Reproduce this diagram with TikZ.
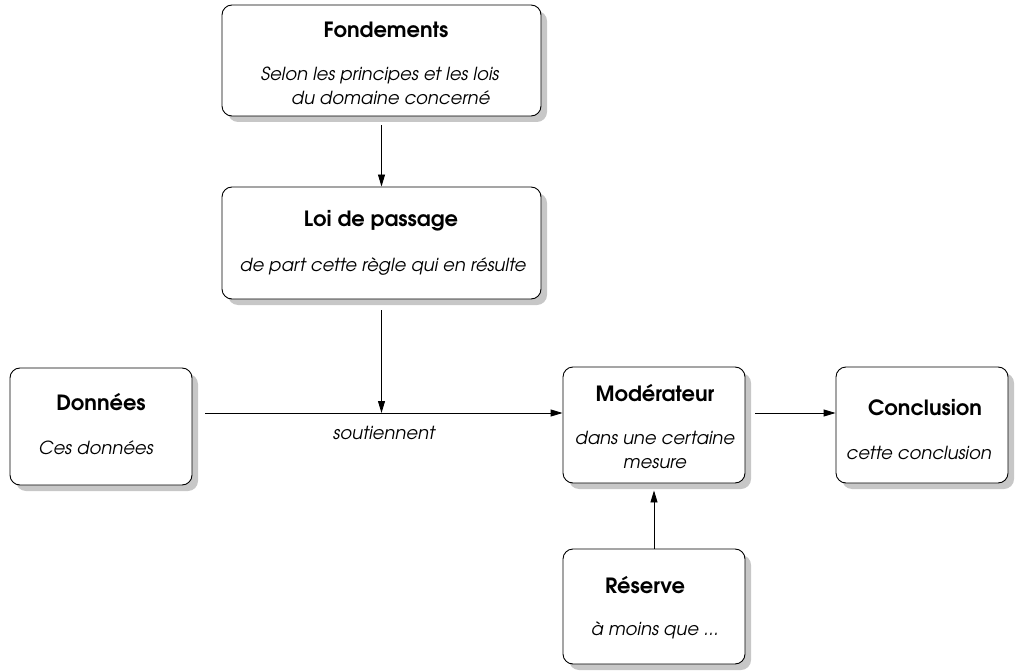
\documentclass[tikz,border=0pt]{standalone}
\usepackage{fontspec}
\setmainfont{TeX Gyre Adventor}
\usetikzlibrary{arrows.meta,shadows}
\begin{document}
\begin{tikzpicture}[x=1pt,y=-1pt,
  card/.style={draw=black, line width=0.9pt, fill=white, rounded corners=10pt,
    inner sep=0pt, drop shadow={shadow xshift=6pt, shadow yshift=-6pt, fill=black!22, opacity=1}},
  ttl/.style={font=\fontsize{21}{24}\selectfont\bfseries},
  sub/.style={font=\fontsize{18}{24}\selectfont\itshape, align=center},
  arr/.style={draw=black, line width=0.9pt, -{Triangle[length=12pt,width=7pt]}}]
\useasboundingbox (0,0) rectangle (1017,671);

% boxes
\node[card, minimum width=319pt, minimum height=111pt] (fond) at (381.5,60.5) {};
\node[card, minimum width=319pt, minimum height=112pt] (loi)  at (381.5,243) {};
\node[card, minimum width=182pt, minimum height=117pt] (don)  at (101,426.5) {};
\node[card, minimum width=182pt, minimum height=116pt] (mod)  at (654,425) {};
\node[card, minimum width=172pt, minimum height=116pt] (conc) at (922,425) {};
\node[card, minimum width=182pt, minimum height=115pt] (res)  at (654,606.5) {};

% texts
\node[ttl] (fondT) at (386,30) {Fondements};
\node[sub] (fondS) at (380,86) {Selon les principes et les lois\\ \hspace*{1.2em}du domaine concerné};
\node[ttl] (loiT) at (381,221) {Loi de passage};
\node[sub] (loiS) at (383,267) {de part cette règle qui en résulte};
\node[ttl] (donT) at (101,402) {Données};
\node[sub] (donS) at (96,448) {Ces données};
\node[ttl] (modT) at (655,393) {Modérateur};
\node[sub] (modS) at (655,450) {dans une certaine\\mesure};
\node[ttl] (concT) at (925,408) {Conclusion};
\node[sub] (concS) at (919,453) {cette conclusion};
\node[ttl] (resT) at (645,585) {Réserve};
\node[sub] (resS) at (655,630) {à moins que ...};

% connectors
\coordinate (j) at (381.5,413);
\draw[arr, shorten <=9pt] (fond.south) -- (loi.north);
\draw[arr, shorten <=11pt] (loi.south) -- (j);
\draw[arr, shorten <=13pt] (don.east |- j) -- (mod.west |- j);
\node[sub] (sout) at (384,433) {soutiennent};
\draw[arr, shorten <=10pt] (mod.east |- j) -- (conc.west |- j);
\draw[arr, shorten >=7pt] (res.north) -- (mod.south);
\end{tikzpicture}
\end{document}
